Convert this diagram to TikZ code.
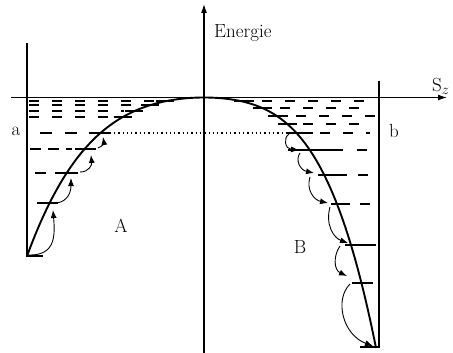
\documentclass[tikz,border=0pt]{standalone}
\usetikzlibrary{arrows.meta}
\begin{document}
\begin{tikzpicture}[x=1pt,y=-1pt,
  axis/.style={line width=1.2pt,-{Latex[length=9pt,width=6pt]}},
  wall/.style={line width=1.8pt},
  lvl/.style={line width=1.6pt},
  dlvl/.style={line width=1.3pt,dash pattern=on 10pt off 13pt},
  trans/.style={line width=0.9pt,-{Latex[length=8pt,width=6pt]}},
  lab/.style={font=\fontsize{19}{22}\selectfont,inner sep=0pt}]
\useasboundingbox (0,0) rectangle (453,353);
% axes
\coordinate (hx0) at (11,97.5);
\coordinate (hx1) at (447,97.5);
\coordinate (vy0) at (204,353);
\coordinate (vy1) at (204,4);
\draw[axis] (hx0) -- (hx1);
\draw[axis] (vy0) -- (vy1);
\node[lab,anchor=base west] (en) at (214,38) {Energie};
\node[lab,anchor=base west] (sz) at (432,92) {S$_z$};
% walls
\draw[wall] (27,43) -- (27,257);
\draw[wall] (379,81) -- (379,348);
% potential curve
\draw[line width=1.9pt,line join=round]
  plot[domain=177:0,samples=90] ({204-\x},{97.5+24*(\x/100)^2+8.5*(\x/100)^4})
  -- plot[domain=0:172,samples=90] ({204+\x},{97.5+24*(\x/100)^2+20.5*(\x/100)^4});
% dotted line a-b
\draw[line width=1pt,dash pattern=on 1.3pt off 3pt] (101,133) -- (292,133);
\node[lab] (a) at (16,131) {a};
\node[lab] (b) at (394,131) {b};
\node[lab] (A) at (121,226) {A};
\node[lab] (B) at (300,247) {B};
% left levels: dashed parts
\draw[dlvl] (29,101) -- (158,101);
\draw[dlvl] (29,105) -- (136,105);
\draw[dlvl] (29,111) -- (124,111);
\draw[dlvl] (29,117) -- (111,117);
\draw[lvl,dash pattern=on 12pt off 13pt] (40,133) -- (78,133);
\draw[lvl,dash pattern=on 11pt off 7pt] (30,149) -- (72,149);
\draw[lvl] (35,173) -- (46,173);
% left levels: solid parts
\draw[lvl] (156,101) -- (174,101);
\draw[lvl] (141,105) -- (159,105);
\draw[lvl] (125,111) -- (143,111);
\draw[lvl] (114,117) -- (132,117);
\draw[lvl] (89,133) -- (110,133);
\draw[lvl] (75,149) -- (96,149);
\draw[lvl] (55,173) -- (78,173);
\draw[lvl] (37,203) -- (58,203);
\draw[lvl] (27,256) -- (43,256);
% right levels: solid parts
\draw[lvl] (234,101) -- (254,101);
\draw[lvl] (253,108) -- (272,108);
\draw[lvl] (268,116) -- (288,116);
\draw[lvl] (278,124) -- (297,124);
\draw[lvl] (287,133) -- (313,133);
\draw[lvl] (288,150) -- (343,150);
\draw[lvl] (318,175) -- (347,175);
\draw[lvl] (331,204) -- (350,204);
\draw[lvl] (345,245) -- (376,245);
\draw[lvl] (352,283) -- (373,283);
\draw[lvl] (360,347) -- (378,347);
% right levels: dashed parts
\draw[dlvl] (262,101) -- (375,101);
\draw[dlvl] (280,108) -- (370,108);
\draw[dlvl] (296,116) -- (375,116);
\draw[dlvl] (303,124) -- (372,124);
\draw[dlvl] (320,133) -- (370,133);
\draw[dlvl] (357,150) -- (368,150);
\draw[dlvl] (358,175) -- (370,175);
\draw[dlvl] (360,204) -- (370,204);
% left transitions (upward)
\draw[trans] (28,255) .. controls (56,256) and (55,235) .. (53,210);
\draw[trans] (57,203) .. controls (68,201) and (71,192) .. (71,178);
\draw[trans] (80,172) .. controls (89,172) and (92,165) .. (91,155);
\draw[trans] (98,148) .. controls (103,146) and (104,143) .. (103,137);
% right transitions (downward)
\draw[trans] (289,134) .. controls (283,138) and (285,149) .. (299,150);
\draw[trans] (300,153) .. controls (295,160) and (300,170) .. (314,173);
\draw[trans] (310,177) .. controls (306,190) and (314,200) .. (328,203);
\draw[trans] (330,207) .. controls (325,225) and (334,238) .. (348,243);
\draw[trans] (340,246) .. controls (333,256) and (334,270) .. (347,276);
\draw[trans] (350,284) .. controls (334,300) and (343,335) .. (373,346);
\end{tikzpicture}
\end{document}
